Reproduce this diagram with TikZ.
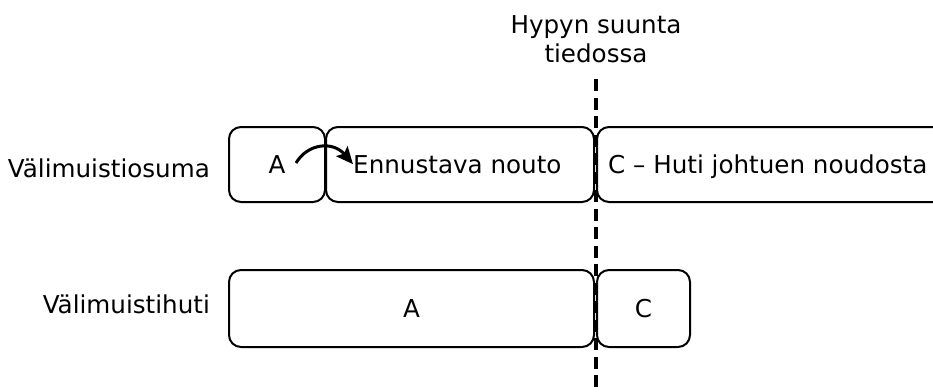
\documentclass[tikz,border=0pt]{standalone}
\usepackage{fontspec}
\setmainfont{DejaVu Sans}
\usetikzlibrary{arrows.meta}
\begin{document}
\begin{tikzpicture}[x=1pt,y=-1pt,
  box/.style={draw, line width=2pt, rounded corners=12pt, inner sep=0pt},
  txt/.style={font=\fontsize{24.6}{29}\selectfont, inner sep=0pt},
  dashline/.style={line width=4pt, dash pattern=on 12pt off 6.5pt}]
\useasboundingbox (0,0) rectangle (933,391);
\clip (0,0) rectangle (933,391);
% top row boxes
\node[box, minimum width=96pt, minimum height=75pt] (a1) at (277,164.5) {};
\node[box, minimum width=268pt, minimum height=75pt] (n1) at (460,164.5) {};
\node[box, minimum width=363pt, minimum height=75pt] (c1) at (778.5,164.5) {};
% bottom row boxes
\node[box, minimum width=365pt, minimum height=77pt] (a2) at (411.5,308.5) {};
\node[box, minimum width=93pt, minimum height=77pt] (c2) at (643.5,308.5) {};
% texts
\node[txt, anchor=base] (ta1) at (a1.center |- 0,173) {A};
\node[txt, anchor=base west] (tn1) at (353,173) {Ennustava nouto};
\node[txt, anchor=base west] (tc1) at (608,173) {C – Huti johtuen noudosta};
\node[txt, anchor=base] (ta2) at (a2.center |- 0,317) {A};
\node[txt, anchor=base] (tc2) at (c2.center |- 0,317) {C};
\node[txt, anchor=base east] (l1) at (210,177) {Välimuistiosuma};
\node[txt, anchor=base east] (l2) at (210,313) {Välimuistihuti};
\node[txt, anchor=base] (h1) at (596,33) {Hypyn suunta};
\node[txt, anchor=base] (h2) at (596,62) {tiedossa};
% dashed line
\coordinate (dtop) at (596,79);
\coordinate (dbot) at (596,395);
\draw[dashline] (dtop) -- (dbot);
% arrow
\coordinate (arrs) at (296,163);
\draw[line width=3pt, -{Stealth[length=17pt, width=15pt, inset=3pt]}] (arrs) .. controls (308,143) and (333,141) .. (tn1.west);
\end{tikzpicture}
\end{document}
